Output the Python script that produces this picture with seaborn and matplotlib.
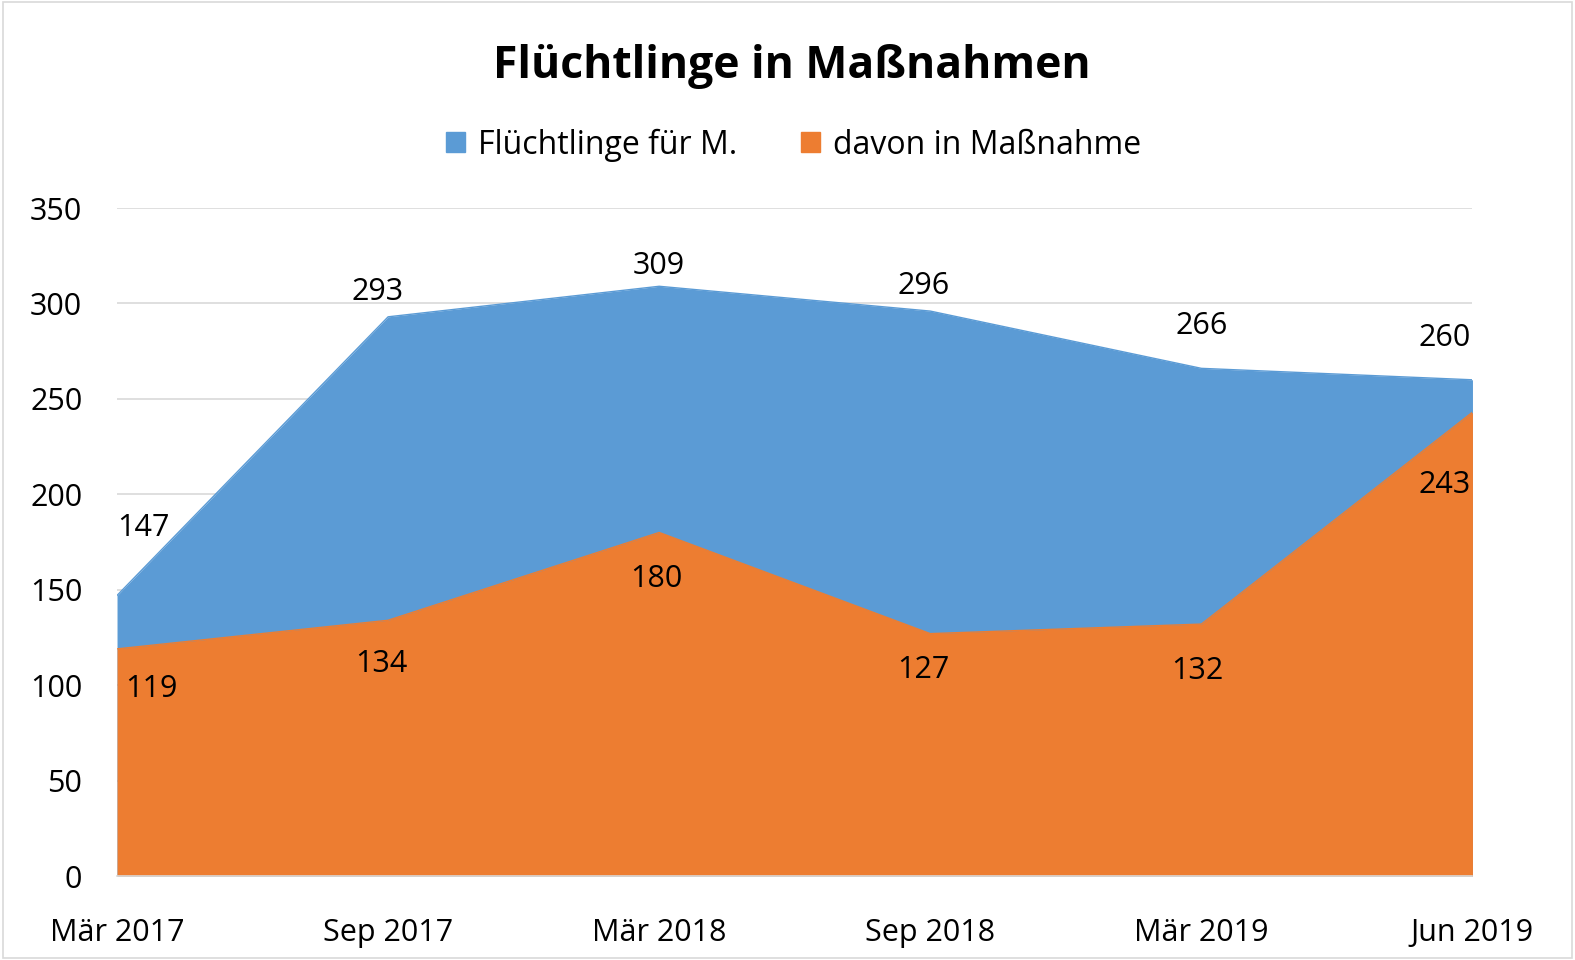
import matplotlib
matplotlib.use("Agg")
import pandas as pd
import seaborn as sns
import matplotlib.pyplot as plt
from matplotlib.patches import Patch, Rectangle

# data
monthLabels = ["Mär 2017", "Sep 2017", "Mär 2018", "Sep 2018", "Mär 2019", "Jun 2019"]
fluechtlingeTotal = [147, 293, 309, 296, 266, 260]
davonInMassnahme = [119, 134, 180, 127, 132, 243]

seriesNames = ["Flüchtlinge für M.", "davon in Maßnahme"]
seriesColors = ["#5B9BD5", "#ED7D31"]

sns.set_theme(style = "white")
plt.rcParams["font.family"] = ["Open Sans", "DejaVu Sans"]
plt.rcParams["text.color"] = "black"
plt.rcParams["xtick.color"] = "black"
plt.rcParams["ytick.color"] = "black"

dataFrame = pd.DataFrame({
    "pos" : list(range(len(monthLabels))),
    "monat" : monthLabels,
    "total" : fluechtlingeTotal,
    "davon" : davonInMassnahme,
})

fig = plt.figure(figsize = (15.75, 9.6), dpi = 100)
ax = fig.add_axes([0.0743, 0.0875, 0.8606, 0.6958])

# areas: total first, then the subset on top of it
ax.fill_between(dataFrame["pos"], 0, dataFrame["total"], color = seriesColors[0], linewidth = 0, zorder = 2)
ax.fill_between(dataFrame["pos"], 0, dataFrame["davon"], color = seriesColors[1], linewidth = 0, zorder = 3)
sns.lineplot(x = "pos", y = "total", data = dataFrame, color = seriesColors[0], linewidth = 1, ax = ax, zorder = 2)
sns.lineplot(x = "pos", y = "davon", data = dataFrame, color = seriesColors[1], linewidth = 1, ax = ax, zorder = 3)

ax.set_xlim(0, len(monthLabels) - 1)
ax.set_ylim(0, 350)
ax.set_yticks(range(0, 351, 50))
ax.set_xticks(dataFrame["pos"])
ax.set_xticklabels(monthLabels, fontsize = 22)
ax.tick_params(axis = "y", labelsize = 22, length = 0, pad = 25)
ax.tick_params(axis = "x", length = 6, width = 1, color = "#D9D9D9", direction = "out", pad = 24)
ax.set_xlabel("")
ax.set_ylabel("")
ax.yaxis.grid(True, color = "#D9D9D9", linewidth = 1.2, zorder = 0)
ax.set_axisbelow(True)
for side in ["top", "right", "left"] :
    ax.spines[side].set_visible(False)
ax.spines["bottom"].set_color("#D9D9D9")
ax.spines["bottom"].set_linewidth(1.2)
ax.spines["bottom"].set_zorder(5)

# value labels (offsets in pixels)
totalOffsets = [(26, 67), (-11, 25), (0, 20), (-7, 25), (0, 42), (-28, 42)]
davonOffsets = [(34, -40), (-7, -44), (-3, -47), (-7, -36), (-4, -47), (-28, -73)]
for idx, value in enumerate(fluechtlingeTotal) :
    ax.annotate(str(value), (idx, value), xytext = totalOffsets[idx], textcoords = "offset pixels",
                ha = "center", va = "center", fontsize = 22, color = "black", zorder = 6)
for idx, value in enumerate(davonInMassnahme) :
    ax.annotate(str(value), (idx, value), xytext = davonOffsets[idx], textcoords = "offset pixels",
                ha = "center", va = "center", fontsize = 22, color = "black", zorder = 6)

fig.suptitle("Flüchtlinge in Maßnahmen", x = 0.503, y = 0.931, va = "center",
             fontsize = 32, fontweight = "bold", color = "black")

legendHandles = [Patch(facecolor = c, edgecolor = c) for c in seriesColors]
fig.legend(legendHandles, seriesNames, loc = "center", bbox_to_anchor = (0.504, 0.849), ncol = 2,
           frameon = False, fontsize = 23, handlelength = 0.6, handleheight = 0.6,
           handletextpad = 0.4, columnspacing = 2.0)

# thin frame around the whole chart
fig.patches.append(Rectangle((0.002, 0.002), 0.996, 0.996, transform = fig.transFigure,
                             fill = False, edgecolor = "#D9D9D9", linewidth = 1.2))

fig.savefig("out.png", dpi = 100)
